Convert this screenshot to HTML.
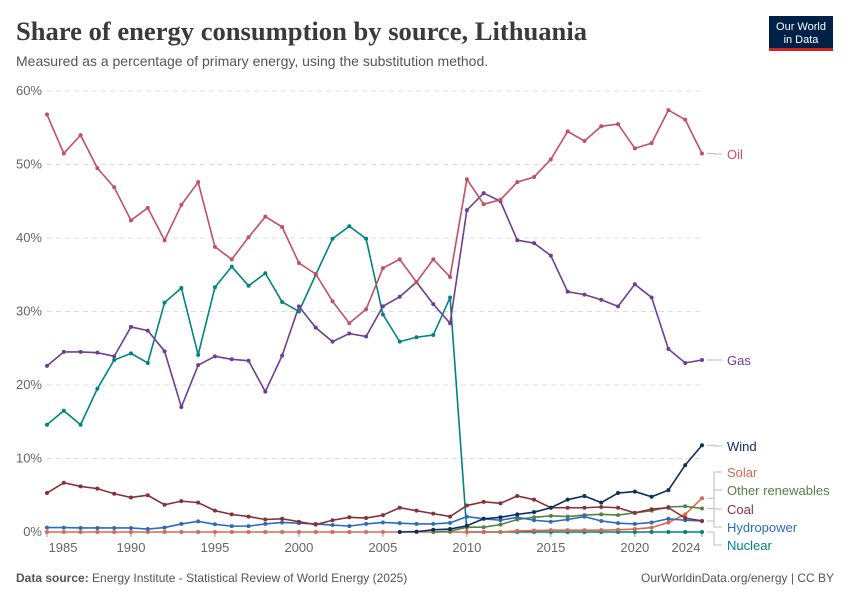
<!DOCTYPE html>
<html><head><meta charset="utf-8"><style>
body{margin:0;background:#fff;font-family:"Liberation Sans",sans-serif}
svg text{font-family:"Liberation Sans",sans-serif}
</style></head><body>
<svg id="c" width="850" height="600" viewBox="0 0 850 600">
<text x="16" y="40" font-size="26.5" font-weight="bold" fill="#3a3a3a" textLength="571" lengthAdjust="spacingAndGlyphs" style="font-family:'Liberation Serif',serif">Share of energy consumption by source, Lithuania</text>
<text x="16" y="66" font-size="14" fill="#555">Measured as a percentage of primary energy, using the substitution method.</text>
<g><rect x="769" y="16" width="64" height="34" fill="#002147"/><rect x="769" y="48" width="64" height="3" fill="#ce261e"/>
<text x="801" y="30" font-size="11" fill="#fff" text-anchor="middle">Our World</text><text x="801" y="43" font-size="11" fill="#fff" text-anchor="middle">in Data</text></g>
<g id="grid"></g><g id="series"></g><g id="labels"></g>
<text x="16" y="582" font-size="12" fill="#555"><tspan font-weight="bold">Data source:</tspan> Energy Institute - Statistical Review of World Energy (2025)</text>
<text x="834" y="582" font-size="12" fill="#555" text-anchor="end">OurWorldinData.org/energy | CC BY</text>
</svg>
<script>
const years=[];for(let y=1985;y<=2024;y++)years.push(y);
const yTicks=[0,10,20,30,40,50,60];
const xTicks=[1985,1990,1995,2000,2005,2010,2015,2020,2024];
const oil=[56.8,51.5,54.0,49.5,46.9,42.4,44.1,39.7,44.5,47.6,38.8,37.1,40.1,42.9,41.5,36.6,35.1,31.4,28.4,30.3,35.9,37.1,34.0,37.1,34.7,48.0,44.6,45.2,47.6,48.3,50.7,54.5,53.2,55.2,55.5,52.2,52.9,57.4,56.1,51.5];
const gas=[22.6,24.5,24.5,24.4,23.9,27.9,27.4,24.6,17.0,22.7,23.9,23.5,23.3,19.1,24.0,30.7,27.8,25.9,27.0,26.6,30.7,32.0,34.0,31.0,28.4,43.8,46.1,45.0,39.7,39.3,37.6,32.7,32.3,31.6,30.7,33.7,31.9,24.9,23.0,23.4];
const nuclear=[14.6,16.5,14.6,19.5,23.4,24.3,23.0,31.2,33.2,24.1,33.3,36.1,33.5,35.2,31.3,30.0,35.0,39.9,41.6,39.9,29.6,25.9,26.5,26.8,31.9,0,0,0,0,0,0,0,0,0,0,0,0,0,0,0];
const coal=[5.3,6.7,6.2,5.9,5.2,4.7,5.0,3.7,4.2,4.0,2.9,2.4,2.1,1.7,1.8,1.4,1.0,1.6,2.0,1.9,2.3,3.3,2.9,2.5,2.1,3.6,4.1,3.9,4.9,4.4,3.3,3.3,3.3,3.4,3.3,2.6,3.1,3.3,1.9,1.5];
const hydro=[0.6,0.6,0.55,0.55,0.55,0.55,0.4,0.6,1.1,1.45,1.05,0.8,0.8,1.1,1.3,1.2,1.1,0.95,0.8,1.1,1.3,1.2,1.1,1.1,1.25,2.1,1.8,1.6,2.0,1.6,1.4,1.7,2.1,1.5,1.2,1.1,1.3,1.8,1.6,1.5];
const wind=[null,null,null,null,null,null,null,null,null,null,null,null,null,null,null,null,null,null,null,null,null,0,0.05,0.3,0.4,0.85,1.8,2.0,2.4,2.7,3.3,4.4,4.9,4.0,5.3,5.5,4.8,5.7,9.1,11.8];
const otherRen=[null,null,null,null,null,null,null,null,null,null,null,null,null,null,null,null,null,null,null,null,null,null,null,0,0.1,0.65,0.65,1.0,1.7,2.0,2.2,2.1,2.3,2.4,2.3,2.6,2.9,3.4,3.5,3.2];
const solar=[0,0,0,0,0,0,0,0,0,0,0,0,0,0,0,0,0,0,0,0,0,0,0,0,0,0,0,0,0.15,0.2,0.25,0.25,0.25,0.25,0.3,0.4,0.6,1.3,2.4,4.6];
const NS='http://www.w3.org/2000/svg';
const X=y=>47+(y-1985)*(702-47)/39, Y=v=>532-v*7.35;
function mk(t,a,p){const e=document.createElementNS(NS,t);for(const k in a)e.setAttribute(k,a[k]);p.appendChild(e);return e;}
const grid=document.getElementById('grid');
yTicks.forEach(t=>{
 const l=mk('line',{x1:47,x2:702,y1:Y(t),y2:Y(t),stroke:'#ddd','stroke-dasharray':t?'5,4':'',},grid);
 
 
 const tx=mk('text',{x:42,y:Y(t)+4,'font-size':13,fill:'#666','text-anchor':'end'},grid);tx.textContent=t+'%';
 
 
});
xTicks.forEach(t=>{
 const tx=mk('text',{x:t===2024?686:(t===1985?63:X(t)),y:552,'font-size':13,fill:'#666','text-anchor':'middle'},grid);tx.textContent=t;
 
 
 const tk=mk('line',{x1:X(t),x2:X(t),y1:532,y2:537,stroke:'#999'},grid);
 
 
});
const series=[['nuclear',nuclear,'#00847e'],['solar',solar,'#d8694f'],['other-renewables',otherRen,'#578145'],['hydropower',hydro,'#2c6cbf'],['coal',coal,'#883039'],['wind',wind,'#0d2e5e'],['gas',gas,'#6d3e91'],['oil',oil,'#c15065']];
const sg=document.getElementById('series');
series.forEach(([n,d,c])=>{
 const g=mk('g',{},sg);
 
 
 const pts=[];d.forEach((v,i)=>{if(v!==null)pts.push(X(years[i])+','+Y(v));});
 const pl=mk('polyline',{points:pts.join(' '),fill:'none',stroke:c,'stroke-width':1.6},g);
 
 
 d.forEach((v,i)=>{if(v===null)return;const p=mk('circle',{cx:X(years[i]),cy:Y(v),r:2,fill:c},g);
  
  });
});
const lg=document.getElementById('labels');
const labs=[['Oil',154,'#c15065',Y(51.5)],['Gas',360,'#6d3e91',Y(23.4)],['Wind',446,'#0d2e5e',Y(11.8)],['Solar',472,'#d8694f',Y(4.6)],['Other renewables',490,'#578145',Y(3.2)],['Coal',509,'#883039',Y(1.5)],['Hydropower',527,'#2c6cbf',Y(1.5)],['Nuclear',545,'#00847e',Y(0)]];
labs.forEach(([t,y,c,sy])=>{
 const l=mk('polyline',{points:`707,${sy} 714,${sy} 714,${y} 722,${y}`,fill:'none',stroke:'#bbb','stroke-width':1},lg);
 
 
 const tx=mk('text',{x:727,y:y+5,'font-size':13,fill:c},lg);tx.textContent=t;
 
 
});
</script>
</body></html>
